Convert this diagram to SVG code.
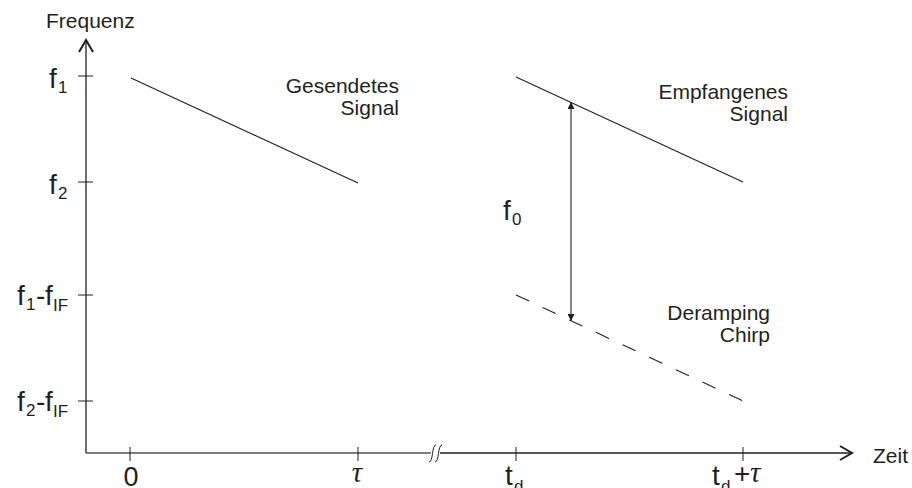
<svg xmlns="http://www.w3.org/2000/svg" width="912" height="488" viewBox="0 0 912 488">
<style>
.t{font-family:"Liberation Sans",Arial,sans-serif;fill:#231f20}
.lbl{font-size:21px}
.big{font-size:28px}
.sub{font-size:17px}
.tau{font-family:"Liberation Serif","Times New Roman",serif;font-style:italic;font-size:29px;fill:#231f20}
.ax{stroke:#231f20;stroke-width:1.3;fill:none}
.tick{stroke:#231f20;stroke-width:1;fill:none}
.sig{stroke:#231f20;stroke-width:1.1;fill:none}
</style>
<defs>
<marker id="ah" viewBox="0 0 10 10" refX="10" refY="5" markerWidth="7" markerHeight="7" markerUnits="userSpaceOnUse" orient="auto-start-reverse">
<path d="M0,0 L10,5 L0,10 z" fill="#231f20"/>
</marker>
</defs>
<g id="axes">
<path class="ax" d="M86,453 V40"/>
<path d="M79,52 L86,40 L93,52" stroke="#231f20" stroke-width="2" fill="none"/>
<path d="M86,453 H431" stroke="#555" stroke-width="1.3" fill="none"/>
<path class="ax" d="M440,453 H852"/>
<path d="M840,446 L852,453 L840,460" stroke="#231f20" stroke-width="2" fill="none"/>
<path d="M429,462 C433.5,462 431.5,445 436,445 M435,462 C439.5,462 437.5,445 442,445" stroke="#231f20" stroke-width="1" fill="none"/>
</g>
<g id="ticks">
<path class="tick" d="M78,76 H93 M78,182 H93 M78,295 H93 M78,401 H93"/>
<path class="tick" d="M130,447 V461 M358,447 V461 M516,447 V461 M743,447 V461"/>
</g>
<g id="y-labels">
<text class="t big" x="49" y="88">f</text><text class="t sub" x="58" y="93">1</text>
<text class="t big" x="49" y="194">f</text><text class="t sub" x="58" y="199">2</text>
<text class="t big" x="17" y="305">f</text><text class="t sub" x="26" y="310">1</text><text class="t big" x="36" y="305">-</text><text class="t big" x="45" y="305">f</text><text class="t sub" x="53" y="311">IF</text>
<text class="t big" x="17" y="411">f</text><text class="t sub" x="26" y="416">2</text><text class="t big" x="36" y="411">-</text><text class="t big" x="45" y="411">f</text><text class="t sub" x="53" y="417">IF</text>
<text class="t lbl" x="46" y="28">Frequenz</text>
</g>
<g id="x-labels">
<text class="t" style="font-size:27px" x="131" y="486" text-anchor="middle">0</text>
<text class="tau" x="357" y="482" text-anchor="middle">τ</text>
<text class="t big" x="505" y="485">t</text><text class="t sub" x="514" y="492">d</text>
<text class="t big" x="712" y="485">t</text><text class="t sub" x="721" y="492">d</text><text class="t big" x="734" y="483">+</text><text class="tau" x="750" y="482">τ</text>
<text class="t lbl" x="873" y="463">Zeit</text>
</g>
<g id="sent-signal">
<path class="sig" d="M131,78 L358,183"/>
<text class="t lbl" x="399" y="93" text-anchor="end">Gesendetes</text>
<text class="t lbl" x="399" y="115" text-anchor="end">Signal</text>
</g>
<g id="received-signal">
<path class="sig" d="M516,77 L743,182"/>
<text class="t lbl" x="788" y="99" text-anchor="end">Empfangenes</text>
<text class="t lbl" x="788" y="121" text-anchor="end">Signal</text>
</g>
<g id="deramping-chirp">
<path class="sig" d="M516,295 L743,401" stroke-dasharray="14.4 15"/>
<text class="t lbl" x="770" y="320" text-anchor="end">Deramping</text>
<text class="t lbl" x="770" y="342" text-anchor="end">Chirp</text>
</g>
<g id="connectors">
<path class="sig" d="M571,321 V102" marker-start="url(#ah)" marker-end="url(#ah)"/>
</g>
<g id="f0-label">
<text class="t big" x="503" y="220">f</text><text class="t sub" x="512" y="225">0</text>
</g>
</svg>
